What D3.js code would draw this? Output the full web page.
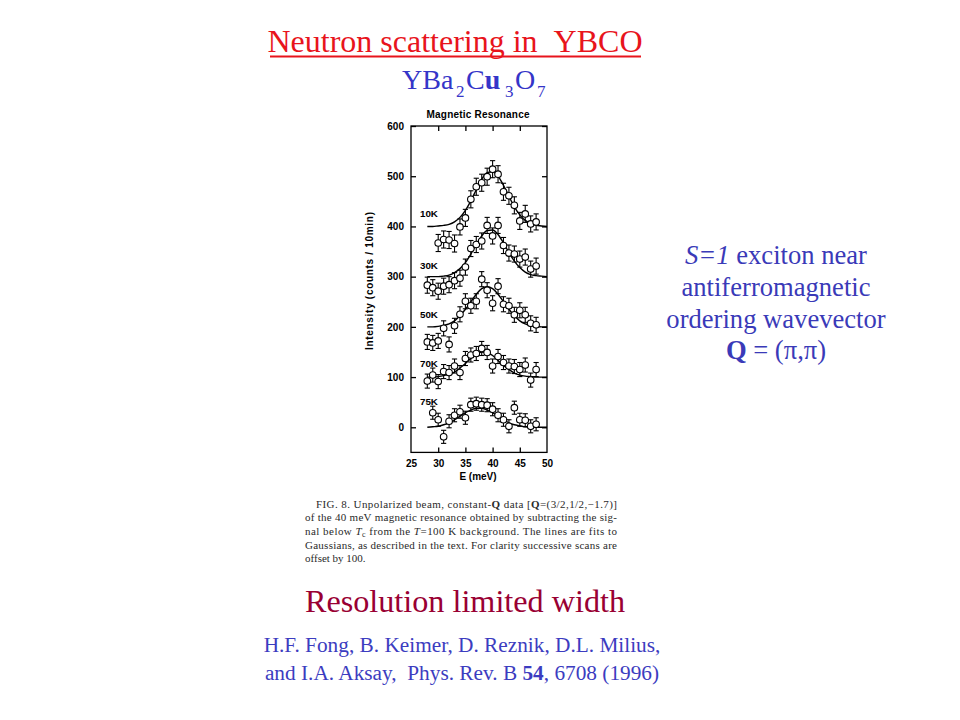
<!DOCTYPE html>
<html>
<head>
<meta charset="utf-8">
<script src="https://cdn.jsdelivr.net/npm/d3@7"></script>
<style>
  html, body { margin: 0; padding: 0; background: #fff; }
  svg { display: block; }
</style>
</head>
<body>
<svg id="chart" width="960" height="720"></svg>
<script>
// ---------------- DATA ----------------
const seriesNames = ["10K", "30K", "50K", "70K", "75K"];
const labelLevels = [419, 315, 217, 120, 45];   // data value where each scan label sits

const E_10K = [30,31,32,33,34,35,36,37,38,39,40,41,42,43,44,45,46,47,48];
const I_10K = [367,374,373,366,399,417,454,479,487,499,514,504,469,461,442,411,425,405,409];
const Err_10K = [17,17,17,17,16,17,17,17,17,17,17,17,17,17,17,17,17,16,16];

const E_30K = [28,29,30,31,32,33,34,35,36,37,38,39,40,41,42,43,44,45,46,47,48];
const I_30K = [283,278,271,281,284,292,297,319,356,364,371,402,381,402,362,347,345,335,339,315,321];
const Err_30K = [16,16,16,16,16,16,16,16,16,16,16,16,16,16,16,16,16,16,16,16,16];

const E_50K = [28,29,30,31,32,33,34,35,36,37,38,39,40,41,42,43,44,45,46,47,48];
const I_50K = [170,168,172,197,165,202,225,251,242,251,295,273,247,281,245,242,224,233,224,207,204];
const Err_50K = [15,15,15,15,15,15,15,15,15,15,15,15,15,15,15,15,15,15,15,15,15];

const E_70K = [28,29,30,31,32,33,34,35,36,37,38,39,40,41,42,43,44,45,46,47,48];
const I_70K = [92,104,91,111,109,122,109,137,144,147,157,149,122,141,129,122,121,115,124,94,115];
const Err_70K = [14,14,14,14,14,14,14,14,14,14,14,14,14,14,14,14,14,14,14,14,14];

const E_75K = [29,30,31,32,33,34,35,36,37,38,39,40,41,42,43,44,45,46,47,48];
const I_75K = [29,15,-19,12,24,31,19,45,47,45,44,36,24,15,2,39,15,14,2,6];
const Err_75K = [13,13,13,13,13,13,13,13,13,13,13,13,13,13,13,13,13,13,13,13];

// Gaussian fit lines at 1 meV steps
const E_fit = [28,29,30,31,32,33,34,35,36,37,38,39,40,41,42,43,44,45,46,47,48,49,50];
const Fit_10K = [400,400,401,402,404,409,418,432,451,473,494,507,509,500,482,460,439,423,412,406,402,401,400];
const Fit_30K = [300,300,300,301,303,308,316,328,345,364,381,392,393,384,367,348,331,318,309,304,302,301,300];
const Fit_50K = [200,200,201,203,206,212,222,235,250,265,276,280,276,265,250,235,222,212,206,203,201,200,200];
const Fit_70K = [100,100,101,103,106,110,118,127,137,146,150,149,143,133,123,115,108,104,102,101,100,100,100];
const Fit_75K = [0,1,2,5,9,15,22,29,34,38,38,34,29,22,15,9,5,3,1,1,0,0,0];

const xTicks = [25,30,35,40,45,50];
const yTicks = [0,100,200,300,400,500,600];

// ---------------- BUILD ----------------
const scans = [
  {E: E_10K, I: I_10K, err: Err_10K, fit: Fit_10K},
  {E: E_30K, I: I_30K, err: Err_30K, fit: Fit_30K},
  {E: E_50K, I: I_50K, err: Err_50K, fit: Fit_50K},
  {E: E_70K, I: I_70K, err: Err_70K, fit: Fit_70K},
  {E: E_75K, I: I_75K, err: Err_75K, fit: Fit_75K}
].map((s, k) => ({
  name: seriesNames[k],
  labelLevel: labelLevels[k],
  points: s.E.map((e, i) => ({e, v: s.I[i], err: s.err[i]})),
  line: E_fit.map((e, i) => ({e, v: s.fit[i]}))
}));

const svg = d3.select("#chart");
const serif = "'Liberation Serif', 'Times New Roman', serif";
const sans = "'Liberation Sans', Arial, Helvetica, sans-serif";

// ---- slide texts ----
svg.append("text")
  .attr("x", 455).attr("y", 52)
  .attr("text-anchor", "middle")
  .style("font-family", serif).style("font-size", "32px")
  .attr("fill", "#e8141c")
  .text("Neutron scattering in\u00A0\u00A0YBCO");
svg.append("line").attr("x1", 270).attr("x2", 641).attr("y1", 56.5).attr("y2", 56.5)
  .attr("stroke", "#e8141c").attr("stroke-width", 2);

const formula = svg.append("text")
  .style("font-family", serif).attr("fill", "#3535c8");
formula.append("tspan").attr("x", 402).attr("y", 89).style("font-size", "28px").text("YBa");
formula.append("tspan").attr("x", 456).attr("y", 97).style("font-size", "17px").text("2");
formula.append("tspan").attr("x", 466).attr("y", 89).style("font-size", "28px").text("C");
formula.append("tspan").style("font-size", "28px").style("font-weight", "bold").text("u");
formula.append("tspan").attr("x", 505).attr("y", 97).style("font-size", "17px").text("3");
formula.append("tspan").attr("x", 515).attr("y", 89).style("font-size", "28px").text("O");
formula.append("tspan").attr("x", 537).attr("y", 97).style("font-size", "17px").text("7");

const blue2 = "#3a3ab8";
const rt = svg.append("g").style("font-family", serif).style("font-size", "26.6px")
  .attr("fill", blue2).attr("text-anchor", "middle");
const l1 = rt.append("text").attr("x", 776).attr("y", 264);
l1.append("tspan").style("font-style", "italic").text("S=1");
l1.append("tspan").text(" exciton near");
rt.append("text").attr("x", 776).attr("y", 296).text("antiferromagnetic");
rt.append("text").attr("x", 776).attr("y", 328).text("ordering wavevector");
const l4 = rt.append("text").attr("x", 776).attr("y", 359);
l4.append("tspan").style("font-weight", "bold").text("Q");
l4.append("tspan").text(" = (\u03C0,\u03C0)");

svg.append("text").attr("x", 465).attr("y", 612).attr("text-anchor", "middle")
  .style("font-family", serif).style("font-size", "32.2px").attr("fill", "#990033")
  .text("Resolution limited width");

const cite = svg.append("g").style("font-family", serif).style("font-size", "21.3px")
  .attr("fill", "#3c3cc0").attr("text-anchor", "middle");
cite.append("text").attr("x", 462).attr("y", 652)
  .text("H.F. Fong, B. Keimer, D. Reznik, D.L. Milius,");
const c2 = cite.append("text").attr("x", 462).attr("y", 680);
c2.append("tspan").text("and I.A. Aksay,\u00A0\u00A0Phys. Rev. B ");
c2.append("tspan").style("font-weight", "bold").text("54");
c2.append("tspan").text(", 6708 (1996)");

// ---- caption ----
const cap = svg.append("g").style("font-family", serif).style("font-size", "11px").attr("fill", "#2a2a2a");
const cl1 = cap.append("text").attr("x", 316).attr("y", 507.5).attr("textLength", 301).attr("lengthAdjust", "spacing");
cl1.append("tspan").text("FIG. 8. Unpolarized beam, constant-");
cl1.append("tspan").style("font-weight", "bold").text("Q");
cl1.append("tspan").text(" data [");
cl1.append("tspan").style("font-weight", "bold").text("Q");
cl1.append("tspan").text("=(3/2,1/2,\u22121.7)]");
cap.append("text").attr("x", 305).attr("y", 521.2).attr("textLength", 312).attr("lengthAdjust", "spacing")
  .text("of the 40 meV magnetic resonance obtained by subtracting the sig-");
const cl3 = cap.append("text").attr("x", 305).attr("y", 534.9).attr("textLength", 312).attr("lengthAdjust", "spacing");
cl3.append("tspan").text("nal below ");
cl3.append("tspan").style("font-style", "italic").text("T");
cl3.append("tspan").attr("dy", 2).style("font-size", "8px").text("c");
cl3.append("tspan").attr("dy", -2).text(" from the ");
cl3.append("tspan").style("font-style", "italic").text("T");
cl3.append("tspan").text("=100 K background. The lines are fits to");
cap.append("text").attr("x", 305).attr("y", 548.6).attr("textLength", 312).attr("lengthAdjust", "spacing")
  .text("Gaussians, as described in the text. For clarity successive scans are");
cap.append("text").attr("x", 305).attr("y", 562.3).text("offset by 100.");

// ---- plot ----
const x = d3.scaleLinear().domain([25, 50]).range([411, 547]);
const y = d3.scaleLinear().domain([-50, 600]).range([452.4, 126]);

const plot = svg.append("g");

// frame
plot.append("rect").attr("x", x(25)).attr("y", y(600))
  .attr("width", x(50) - x(25)).attr("height", y(-50) - y(600))
  .attr("fill", "none").attr("stroke", "#000").attr("stroke-width", 1.3);

function styleAxis(g) {
  g.select(".domain").remove();
  g.selectAll(".tick line").attr("stroke", "#000").attr("stroke-width", 1.3);
  g.selectAll(".tick text").style("font-family", sans).style("font-weight", "bold")
    .style("font-size", "10px").attr("fill", "#000");
}

plot.append("g").attr("transform", `translate(${x(25)},0)`)
  .call(d3.axisLeft(y).tickValues(yTicks).tickSizeInner(-5).tickSizeOuter(0).tickPadding(7))
  .call(styleAxis);
plot.append("g").attr("transform", `translate(${x(50)},0)`)
  .call(d3.axisRight(y).tickValues(yTicks).tickSizeInner(-5).tickSizeOuter(0).tickFormat(""))
  .call(styleAxis);
plot.append("g").attr("transform", `translate(0,${y(-50)})`)
  .call(d3.axisBottom(x).tickValues(xTicks).tickSizeInner(-5).tickSizeOuter(0).tickPadding(8))
  .call(styleAxis)
  .call(g => g.selectAll(".tick").filter(d => d === 25 || d === 50).select("line").remove());
plot.append("g").attr("transform", `translate(0,${y(600)})`)
  .call(d3.axisTop(x).tickValues(xTicks).tickSizeInner(-5).tickSizeOuter(0).tickFormat(""))
  .call(styleAxis)
  .call(g => g.selectAll(".tick").filter(d => d === 25 || d === 50).select("line").remove());

// titles
plot.append("text").attr("x", 478).attr("y", 117.5).attr("text-anchor", "middle")
  .style("font-family", sans).style("font-weight", "bold").style("font-size", "10px")
  .attr("textLength", 103).attr("lengthAdjust", "spacing")
  .text("Magnetic Resonance");
plot.append("text").attr("x", 478).attr("y", 480).attr("text-anchor", "middle")
  .style("font-family", sans).style("font-weight", "bold").style("font-size", "10px")
  .text("E (meV)");
plot.append("text").attr("transform", "translate(373,281) rotate(-90)")
  .attr("text-anchor", "middle")
  .style("font-family", sans).style("font-weight", "bold").style("font-size", "10px")
  .attr("textLength", 138).attr("lengthAdjust", "spacing")
  .text("Intensity (counts / 10min)");

// fit lines
const lineGen = d3.line().x(d => x(d.e)).y(d => y(d.v)).curve(d3.curveMonotoneX);
plot.append("g").selectAll("path").data(scans).join("path")
  .attr("d", d => lineGen(d.line))
  .attr("fill", "none").attr("stroke", "#000").attr("stroke-width", 1.4);

// scan labels
plot.append("g").selectAll("text").data(scans).join("text")
  .attr("x", x(26.65)).attr("y", d => y(d.labelLevel))
  .style("font-family", sans).style("font-weight", "bold").style("font-size", "9.8px")
  .text(d => d.name);

// error bars + points
const capW = 2.6;
const pts = plot.append("g").selectAll("g").data(scans).join("g")
  .selectAll("g").data(d => d.points).join("g");
pts.append("line")
  .attr("x1", d => x(d.e)).attr("x2", d => x(d.e))
  .attr("y1", d => y(d.v + d.err)).attr("y2", d => y(d.v - d.err))
  .attr("stroke", "#000").attr("stroke-width", 1.1);
pts.append("line")
  .attr("x1", d => x(d.e) - capW).attr("x2", d => x(d.e) + capW)
  .attr("y1", d => y(d.v + d.err)).attr("y2", d => y(d.v + d.err))
  .attr("stroke", "#000").attr("stroke-width", 1.1);
pts.append("line")
  .attr("x1", d => x(d.e) - capW).attr("x2", d => x(d.e) + capW)
  .attr("y1", d => y(d.v - d.err)).attr("y2", d => y(d.v - d.err))
  .attr("stroke", "#000").attr("stroke-width", 1.1);
pts.append("circle")
  .attr("cx", d => x(d.e)).attr("cy", d => y(d.v)).attr("r", 3.3)
  .attr("fill", "#fff").attr("stroke", "#000").attr("stroke-width", 1.1);
</script>
</body>
</html>
